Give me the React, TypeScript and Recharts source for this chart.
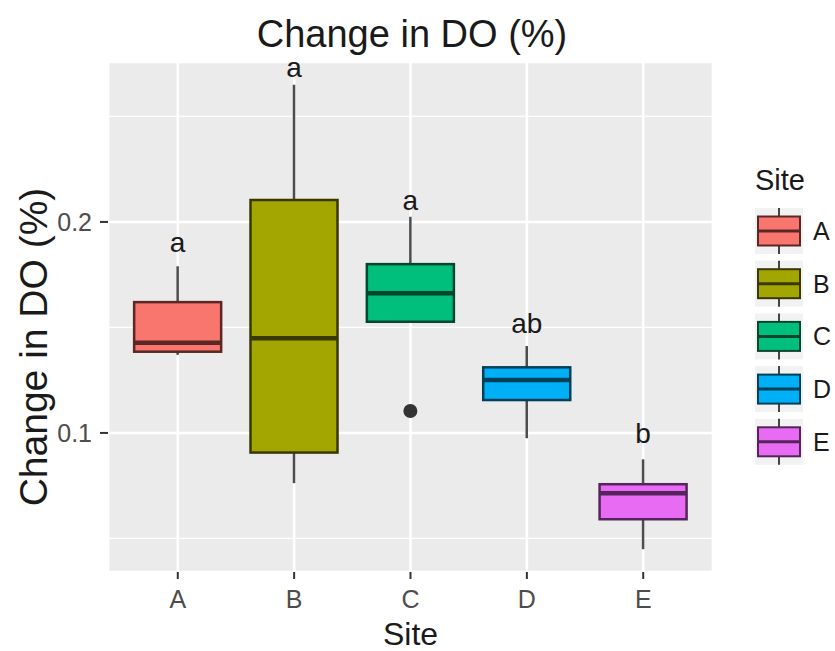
import React from "react";
import { ComposedChart, Bar, XAxis, YAxis, CartesianGrid, Legend, Label } from "recharts";

// boxplot stats, one entry per site
const sites = ["A", "B", "C", "D", "E"];
const whiskerLow = [0.137, 0.0762, 0.1527, 0.0975, 0.0449];
const q1 = [0.1385, 0.0907, 0.1527, 0.1156, 0.0591];
const median = [0.1428, 0.1449, 0.1662, 0.1251, 0.0714];
const q3 = [0.162, 0.2104, 0.18, 0.1311, 0.0757];
const whiskerHigh = [0.179, 0.265, 0.2025, 0.1412, 0.0875];
const outliers: number[][] = [[], [], [0.1104], [], []];
const groupLetters = ["a", "a", "a", "ab", "b"];
const letterY = [0.1858, 0.2687, 0.2057, 0.1474, 0.0953];

const majorTicks = [0.1, 0.2];
const minorTicks = [0.05, 0.15, 0.25];
const yDomain = [0.0341, 0.2758];

const fills = ["#F8766D", "#A3A500", "#00BF7D", "#00B0F6", "#E76BF3"];
const outlines = ["#5a2724", "#383800", "#00452d", "#003f58", "#55245a"];

const FONT = "'Liberation Sans', Arial, Helvetica, sans-serif";

const data = sites.map((site, i) => ({
  site,
  low: whiskerLow[i],
  q1: q1[i],
  median: median[i],
  q3: q3[i],
  high: whiskerHigh[i],
  outliers: outliers[i],
  letter: groupLetters[i],
  letterY: letterY[i],
}));

const BoxShape = (props: any) => {
  const { x, y, width, height, payload } = props;
  const i = sites.indexOf(payload.site);
  const top = Math.min(y, y + height);
  const bottom = Math.max(y, y + height);
  const span = payload.high - payload.low;
  // bar covers [low, high], so map values linearly inside it
  const py = (v: number) => bottom - ((v - payload.low) / span) * (bottom - top);
  const cx = x + width / 2;
  return (
    <g>
      <line x1={cx} x2={cx} y1={py(payload.high)} y2={py(payload.q3)} stroke="#4d4d4d" strokeWidth={2.5} />
      <line x1={cx} x2={cx} y1={py(payload.q1)} y2={py(payload.low)} stroke="#4d4d4d" strokeWidth={2.5} />
      <rect
        x={x}
        y={py(payload.q3)}
        width={width}
        height={py(payload.q1) - py(payload.q3)}
        fill={fills[i]}
        stroke={outlines[i]}
        strokeWidth={2.5}
      />
      <line x1={x} x2={x + width} y1={py(payload.median)} y2={py(payload.median)} stroke={outlines[i]} strokeWidth={4.5} />
      {payload.outliers.map((v: number, k: number) => (
        <circle key={k} cx={cx} cy={py(v)} r={7} fill="#333" />
      ))}
      <text x={cx} y={py(payload.letterY)} textAnchor="middle" fontSize={28} fontFamily={FONT} fill="#1a1a1a">
        {payload.letter}
      </text>
    </g>
  );
};

const renderLegend = () => (
  <svg width={90} height={320} style={{ display: "block" }}>
    <text x={10} y={30} fontSize={29} fontFamily={FONT} fill="#1a1a1a">
      Site
    </text>
    {sites.map((s, i) => {
      const cy = 71 + i * 52.7;
      return (
        <g key={s}>
          <rect x={10} y={cy - 23} width={48} height={46} fill="#F2F2F2" />
          <line x1={34} x2={34} y1={cy - 23} y2={cy + 23} stroke="#444" strokeWidth={2} />
          <rect x={13} y={cy - 14.5} width={42} height={29} fill={fills[i]} stroke={outlines[i]} strokeWidth={2} />
          <line x1={13} x2={55} y1={cy} y2={cy} stroke={outlines[i]} strokeWidth={3} />
          <text x={68} y={cy} dy="0.36em" fontSize={25} fontFamily={FONT} fill="#1a1a1a">
            {s}
          </text>
        </g>
      );
    })}
  </svg>
);

export default function App() {
  return (
    <div style={{ position: "absolute", left: 0, top: 0, width: 835, height: 651, background: "#fff", fontFamily: FONT }}>
      <ComposedChart
        width={835}
        height={651}
        data={data}
        margin={{ top: 62, right: 122, bottom: 0, left: 0 }}
        barCategoryGap="12.5%"
      >
        <CartesianGrid
          yAxisId="minor"
          vertical={false}
          fill="#EBEBEB"
          stroke="#fff"
          strokeWidth={1.3}
        />
        <CartesianGrid yAxisId="major" stroke="#fff" strokeWidth={2.6} />
        <XAxis
          dataKey="site"
          height={79}
          padding={{ left: 11.6, right: 11.6 }}
          axisLine={false}
          tickLine={{ stroke: "#333", strokeWidth: 2 }}
          tickSize={7}
          tickMargin={11}
          tick={{ fill: "#4D4D4D", fontSize: 25, fontFamily: FONT }}
        >
          <Label
            content={(p: any) => {
              const vb = p.viewBox;
              return (
                <text x={vb.x + vb.width / 2} y={vb.y + vb.height - 6} textAnchor="middle" fontSize={32} fontFamily={FONT} fill="#1a1a1a">
                  Site
                </text>
              );
            }}
          />
        </XAxis>
        <YAxis
          yAxisId="major"
          type="number"
          domain={yDomain}
          allowDataOverflow
          ticks={majorTicks}
          tickFormatter={(v: number) => v.toFixed(1)}
          width={108}
          axisLine={false}
          tickLine={{ stroke: "#333", strokeWidth: 2 }}
          tickSize={8}
          tickMargin={8}
          tick={{ fill: "#4D4D4D", fontSize: 25, fontFamily: FONT }}
        >
          <Label
            content={(p: any) => {
              const vb = p.viewBox;
              const cx = vb.x + 33;
              const cy = vb.y + vb.height / 2 + 30;
              return (
                <text
                  x={cx}
                  y={cy}
                  dy="0.36em"
                  transform={`rotate(-90 ${cx} ${cy})`}
                  textAnchor="middle"
                  fontSize={39}
                  fontFamily={FONT}
                  fill="#1a1a1a"
                >
                  Change in DO (%)
                </text>
              );
            }}
          />
        </YAxis>
        <YAxis yAxisId="minor" type="number" domain={yDomain} allowDataOverflow ticks={minorTicks} hide />
        <Bar
          yAxisId="major"
          dataKey={(d: any) => [d.low, d.high]}
          shape={BoxShape}
          isAnimationActive={false}
        />
        <Legend
          layout="vertical"
          verticalAlign="middle"
          align="center"
          content={renderLegend}
          wrapperStyle={{ position: "absolute", left: 745, top: 160, width: 90 }}
        />
      </ComposedChart>
      <svg width={835} height={651} style={{ position: "absolute", left: 0, top: 0, pointerEvents: "none" }}>
        <text x={412} y={47} textAnchor="middle" fontSize={38} fontFamily={FONT} fill="#1a1a1a">
          Change in DO (%)
        </text>
      </svg>
    </div>
  );
}
